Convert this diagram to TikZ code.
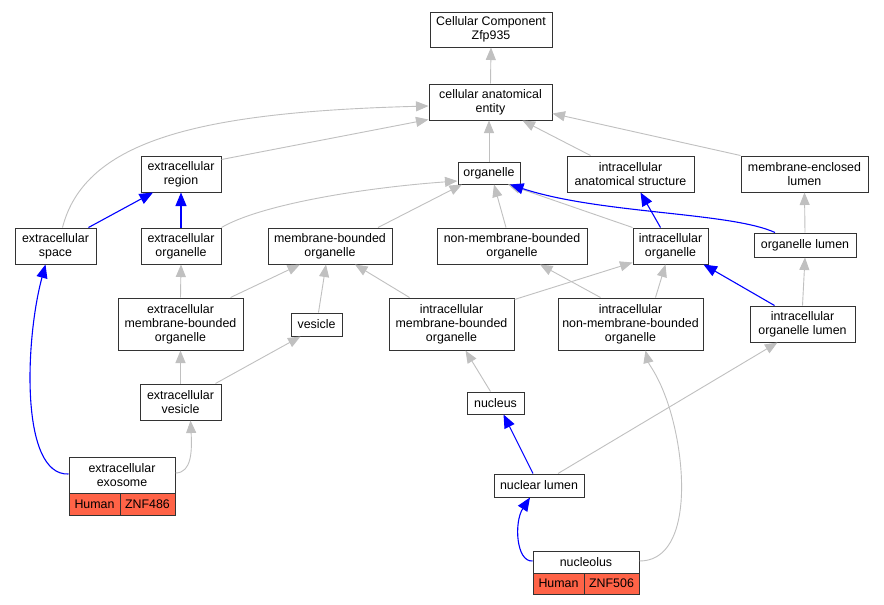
\documentclass[tikz,border=0pt]{standalone}
\usepackage{fontspec}
\setmainfont{Liberation Sans}
\usetikzlibrary{arrows.meta}
\definecolor{gedge}{RGB}{192,192,192}
\definecolor{bedge}{RGB}{0,0,255}
\definecolor{tomatofill}{RGB}{255,99,71}
\begin{document}
\begin{tikzpicture}[x=1pt,y=-1pt,
  box/.style={draw=black!80,line width=1pt,fill=white,align=center,inner sep=0pt,
    font=\fontsize{12.4}{14}\selectfont},
  redbox/.style={box,fill=tomatofill},
  garrow/.style={draw=gedge,line width=0.9pt,-{Triangle[length=12.5pt,width=10pt]}},
  barrow/.style={draw=bedge,line width=1.1pt,-{Triangle[length=13.5pt,width=11pt]}}]
\path[use as bounding box,fill=white] (0,0) rectangle (884,605);
% nodes
\node[box,minimum width=122pt,minimum height=35pt] (cc) at (491,29.5) {Cellular Component\\Zfp935};
\node[box,minimum width=123pt,minimum height=36pt] (cae) at (490.5,102) {cellular anatomical\\entity};
\node[box,minimum width=80pt,minimum height=36pt] (exr) at (181,174) {extracellular\\region};
\node[box,minimum width=62pt,minimum height=22pt] (org) at (489,173) {organelle};
\node[box,minimum width=127pt,minimum height=36pt] (ias) at (630.5,174) {intracellular\\anatomical structure};
\node[box,minimum width=127pt,minimum height=36pt] (mel) at (804.5,174) {membrane-enclosed\\lumen};
\node[box,minimum width=81pt,minimum height=36pt] (exs) at (55.5,246) {extracellular\\space};
\node[box,minimum width=80pt,minimum height=36pt] (exo) at (181,246) {extracellular\\organelle};
\node[box,minimum width=124pt,minimum height=36pt] (mbo) at (330,246) {membrane-bounded\\organelle};
\node[box,minimum width=150pt,minimum height=36pt] (nmbo) at (512,246) {non-membrane-bounded\\organelle};
\node[box,minimum width=75pt,minimum height=36pt] (io) at (670.5,246) {intracellular\\organelle};
\node[box,minimum width=102pt,minimum height=24pt] (ol) at (805,245) {organelle lumen};
\node[box,minimum width=125pt,minimum height=52pt] (embo) at (180.5,324) {extracellular\\membrane-bounded\\organelle};
\node[box,minimum width=51pt,minimum height=23pt] (ves) at (316.5,324.5) {vesicle};
\node[box,minimum width=125pt,minimum height=52pt] (imbo) at (451.5,324) {intracellular\\membrane-bounded\\organelle};
\node[box,minimum width=145pt,minimum height=52pt] (inmbo) at (630.5,324) {intracellular\\non-membrane-bounded\\organelle};
\node[box,minimum width=105pt,minimum height=36pt] (iol) at (802.5,324) {intracellular\\organelle lumen};
\node[box,minimum width=81pt,minimum height=36pt] (exv) at (180.5,402) {extracellular\\vesicle};
\node[box,minimum width=57pt,minimum height=22pt] (nuc) at (495.5,403) {nucleus};
\node[box,minimum width=106pt,minimum height=36pt] (exsm) at (122,475) {extracellular\\exosome};
\node[redbox,minimum width=51pt,minimum height=22pt] (exsmH) at (94.5,504) {Human};
\node[redbox,minimum width=55pt,minimum height=22pt] (exsmZ) at (147.5,504) {ZNF486};
\node[box,minimum width=90pt,minimum height=23pt] (nl) at (539,485.5) {nuclear lumen};
\node[box,minimum width=106pt,minimum height=22pt] (ncl) at (586,562) {nucleolus};
\node[redbox,minimum width=51pt,minimum height=21pt] (nclH) at (558.5,583.5) {Human};
\node[redbox,minimum width=55pt,minimum height=21pt] (nclZ) at (611.5,583.5) {ZNF506};
% gray edges
\draw[garrow] (cae.north) -- (cc.south);
\draw[garrow] ([yshift=-4pt]exr.north east) -- ([yshift=1pt]cae.south west);
\draw[garrow] ([xshift=7pt]exs.north) .. controls (85,140) and (200,112) .. ([yshift=-4pt]cae.west);
\draw[garrow] (org.north) -- (org.north |- cae.south);
\draw[garrow] ([xshift=-40pt]ias.north) -- ([xshift=32pt]cae.south);
\draw[garrow] (mel.north west) -- ([yshift=7pt]cae.south east);
\draw[garrow] (exo.north east) .. controls (260,205) and (360,188) .. ([yshift=-8pt]org.west);
\draw[garrow] ([xshift=48pt]mbo.north) -- ([xshift=-27pt]org.south);
\draw[garrow] ([xshift=-6pt]nmbo.north) -- ([xshift=5pt]org.south);
\draw[garrow] (io.north west) -- ([xshift=19pt]org.south);
\draw[garrow] (ol.north) -- (mel.south);
\draw[garrow] (embo.north) -- (exo.south);
\draw[garrow] ([xshift=50pt]embo.north) -- ([xshift=-30pt]mbo.south);
\draw[garrow] ([xshift=2pt]ves.north) -- ([xshift=-4pt]mbo.south);
\draw[garrow] ([xshift=-42pt]imbo.north) -- ([xshift=25pt]mbo.south);
\draw[garrow] ([yshift=-2pt]imbo.north east) -- ([yshift=2pt]io.south west);
\draw[garrow] ([xshift=-30pt]inmbo.north) -- ([xshift=28pt]nmbo.south);
\draw[garrow] ([xshift=25pt]inmbo.north) -- ([xshift=-5pt]io.south);
\draw[garrow] (iol.north) -- (ol.south);
\draw[garrow] (exv.north) -- (embo.south);
\draw[garrow] ([xshift=35pt]exv.north) -- ([xshift=-16pt]ves.south);
\draw[garrow] ([xshift=-5pt]nuc.north) -- ([xshift=14pt]imbo.south);
\draw[garrow] ([yshift=2pt]exsm.east) .. controls (192,473) and (192,450) .. ([xshift=10pt]exv.south);
\draw[garrow] ([xshift=19pt]nl.north) -- ([xshift=-25pt]iol.south);
\draw[garrow] ([yshift=1pt]ncl.east) .. controls (690,561) and (688,470) .. (670,410)
  .. controls (660,377) and (649,365) .. ([xshift=15pt]inmbo.south);
% blue edges
\draw[barrow] ([xshift=33pt]exs.north) -- ([xshift=-28pt]exr.south);
\draw[barrow] (exo.north) -- (exr.south);
\draw[barrow] ([xshift=-10pt]io.north) -- ([xshift=10pt]ias.south);
\draw[barrow] ([xshift=-30pt]ol.north) .. controls (730,212) and (600,214) .. ([xshift=21pt]org.south);
\draw[barrow] ([xshift=-28pt]iol.north) -- ([xshift=33pt]io.south);
\draw[barrow] ([yshift=1pt]exsm.west) .. controls (20,476) and (25,340) .. ([xshift=-10pt]exs.south);
\draw[barrow] ([xshift=-6pt]nl.north) -- ([xshift=8pt]nuc.south);
\draw[barrow] ([yshift=1pt]ncl.west) .. controls (516,562) and (514,522) .. ([xshift=-9pt]nl.south);
\end{tikzpicture}
\end{document}
